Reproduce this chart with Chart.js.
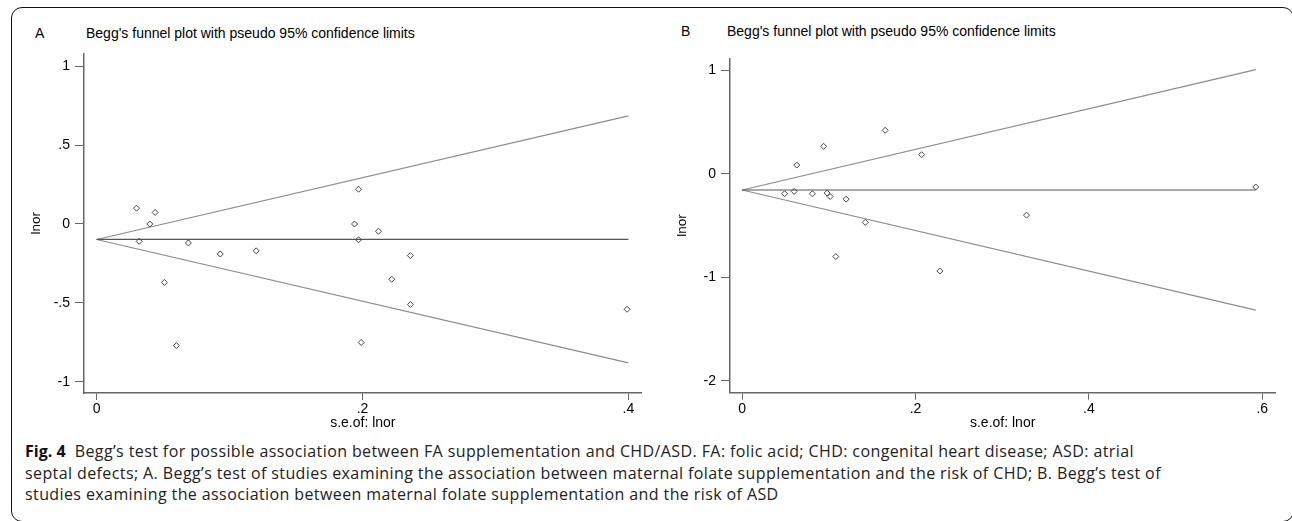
<!DOCTYPE html>
<html>
<head>
<meta charset="utf-8">
<script src="https://cdn.jsdelivr.net/npm/chart.js@4.4.1/dist/chart.umd.min.js"></script>
<style>
  html, body { margin: 0; padding: 0; background: #fff; }
  body { width: 1292px; height: 521px; position: relative; overflow: hidden; font-family: "Liberation Sans", Arial, sans-serif; }
  .frame { position: absolute; left: 11px; top: 7px; width: 1283px; height: 515px; border: 1.5px solid #111; border-radius: 11px; box-sizing: border-box; }
  .panel { position: absolute; top: 40px; }
  .lbl { position: absolute; font-size: 14px; line-height: 14px; color: #000; white-space: nowrap; }
  .cap { position: absolute; left: 25px; font-family: "Open Sans", sans-serif; font-size: 16px; letter-spacing: 0.4px; line-height: 21px; color: #222; white-space: nowrap; }
  .cap b { color: #111; letter-spacing: 0; }
</style>
</head>
<body>
<div class="frame"></div>

<div class="lbl" style="left:35px; top:26px;">A</div>
<div class="lbl" style="left:86px; top:26px;">Begg's funnel plot with pseudo 95% confidence limits</div>
<div class="lbl" style="left:681px; top:24px;">B</div>
<div class="lbl" style="left:727px; top:24px;">Begg's funnel plot with pseudo 95% confidence limits</div>

<canvas id="funnelA" class="panel" width="660" height="400" style="left:0px;"></canvas>
<canvas id="funnelB" class="panel" width="632" height="400" style="left:660px;"></canvas>

<div class="cap" style="top:441px;"><b>Fig. 4</b>&nbsp; Begg’s test for possible association between FA supplementation and CHD/ASD. FA: folic acid; CHD: congenital heart disease; ASD: atrial</div>
<div class="cap" style="top:463px;">septal defects; A. Begg’s test of studies examining the association between maternal folate supplementation and the risk of CHD; B. Begg’s test of</div>
<div class="cap" style="top:484px;">studies examining the association between maternal folate supplementation and the risk of ASD</div>

<script>
// panel A: CHD studies
const seA   = [0.030, 0.044, 0.040, 0.032, 0.051, 0.060, 0.069, 0.093, 0.120, 0.194, 0.197, 0.197, 0.199, 0.212, 0.222, 0.236, 0.236, 0.399];
const lnorA = [0.10, 0.073, 0.0, -0.11, -0.37, -0.77, -0.12, -0.19, -0.17, 0.0, 0.22, -0.10, -0.75, -0.046, -0.35, -0.20, -0.51, -0.54];
const lineXA  = [0, 0.4];
const pooledA = [-0.098, -0.098];
const upperA  = [-0.098, 0.684];
const lowerA  = [-0.098, -0.879];
const xTicksA = [0, 0.2, 0.4];
const yTicksA = [-1, -0.5, 0, 0.5, 1];

// panel B: ASD studies
const seB   = [0.049, 0.060, 0.063, 0.081, 0.094, 0.098, 0.1015, 0.108, 0.120, 0.142, 0.165, 0.207, 0.228, 0.328, 0.5925];
const lnorB = [-0.193, -0.17, 0.084, -0.193, 0.265, -0.187, -0.22, -0.80, -0.245, -0.47, 0.42, 0.184, -0.94, -0.40, -0.128];
const lineXB  = [0, 0.5925];
const pooledB = [-0.157, -0.157];
const upperB  = [-0.157, 1.006];
const lowerB  = [-0.157, -1.318];
const xTicksB = [0, 0.2, 0.4, 0.6];
const yTicksB = [-2, -1, 0, 1];

const pts = (xs, ys) => xs.map((x, i) => ({ x: x, y: ys[i] }));
const stata = v => String(v).replace('0.', '.');   // .5, -.5 like Stata

function funnel(id, o) {
  return new Chart(document.getElementById(id), {
    type: 'scatter',
    data: {
      datasets: [
        { data: pts(o.se, o.lnor), pointStyle: 'rectRot', pointRadius: 3, borderWidth: 1,
          borderColor: '#444', backgroundColor: 'rgba(0,0,0,0)' },
        { type: 'line', data: pts(o.lineX, o.pooled), borderColor: '#555', borderWidth: 1.2, pointRadius: 0 },
        { type: 'line', data: pts(o.lineX, o.upper), borderColor: '#8c8c8c', borderWidth: 1.2, pointRadius: 0 },
        { type: 'line', data: pts(o.lineX, o.lower), borderColor: '#8c8c8c', borderWidth: 1.2, pointRadius: 0 }
      ]
    },
    options: {
      responsive: false,
      animation: false,
      layout: { padding: o.pad },
      plugins: { legend: { display: false }, tooltip: { enabled: false } },
      scales: {
        x: {
          type: 'linear', min: o.xMin, max: o.xMax,
          afterBuildTicks: s => { s.ticks = o.xTicks.map(v => ({ value: v })); },
          afterFit: s => { s.height = o.xHeight; },
          grid: { drawOnChartArea: false, tickLength: 7, color: '#666' },
          border: { color: '#666', width: 1.5 },
          ticks: { callback: stata, autoSkip: false, maxRotation: 0, padding: 1, color: '#000',
                   font: { family: 'Liberation Sans', size: 14 } },
          title: { display: true, text: 's.e.of: lnor', color: '#000', padding: { top: 0, bottom: 8.6 },
                   font: { family: 'Liberation Sans', size: 14 } }
        },
        y: {
          type: 'linear', min: o.yMin, max: o.yMax,
          afterBuildTicks: s => { s.ticks = o.yTicks.map(v => ({ value: v })); },
          afterFit: s => { s.width = o.yWidth; },
          grid: { drawOnChartArea: false, tickLength: 9, color: '#666' },
          border: { color: '#666', width: 1.5 },
          ticks: { callback: stata, autoSkip: false, padding: 5, color: '#000',
                   font: { family: 'Liberation Sans', size: 14 } },
          title: { display: true, text: 'lnor', color: '#000', padding: { top: o.yTitlePad, bottom: 0 },
                   font: { family: 'Liberation Sans', size: 13.5 } }
        }
      }
    }
  });
}

const chartA = funnel('funnelA', {
  se: seA, lnor: lnorA, lineX: lineXA, pooled: pooledA, upper: upperA, lower: lowerA,
  xTicks: xTicksA, yTicks: yTicksA, xMin: -0.0095, xMax: 0.41, yMin: -1.07, yMax: 1.08,
  pad: { left: 0, right: 18.3, top: 10, bottom: 0 }, yWidth: 84, xHeight: 47, yTitlePad: 28
});

const chartB = funnel('funnelB', {
  se: seB, lnor: lnorB, lineX: lineXB, pooled: pooledB, upper: upperB, lower: lowerB,
  xTicks: xTicksB, yTicks: yTicksB, xMin: -0.014, xMax: 0.615, yMin: -2.116, yMax: 1.116,
  pad: { left: 0, right: 16.7, top: 18.3, bottom: 0 }, yWidth: 70, xHeight: 47.3, yTitlePad: 14
});
</script>
</body>
</html>
